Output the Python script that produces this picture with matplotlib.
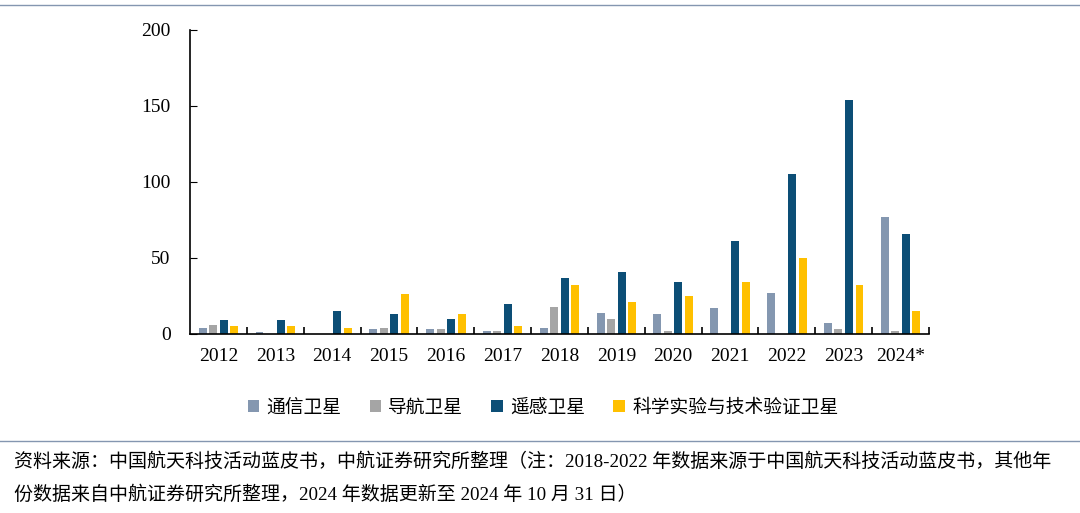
import numpy as np
import matplotlib.pyplot as plt
from matplotlib.lines import Line2D

plt.rcParams['font.family'] = ['Liberation Serif', 'Noto Sans CJK SC']

years = ["2012", "2013", "2014", "2015", "2016", "2017", "2018",
         "2019", "2020", "2021", "2022", "2023", "2024*"]
series_names = ["通信卫星", "导航卫星", "遥感卫星", "科学实验与技术验证卫星"]
comm = [4, 1, 0, 3, 3, 2, 4, 14, 13, 17, 27, 7, 77]
nav = [6, 0, 0, 4, 3, 2, 18, 10, 2, 0, 0, 3, 2]
remote = [9, 9, 15, 13, 10, 20, 37, 41, 34, 61, 105, 154, 66]
science = [5, 5, 4, 26, 13, 5, 32, 21, 25, 34, 50, 32, 15]
colors = ["#8497B0", "#A5A5A5", "#0C4E76", "#FFC000"]

source_lines = [
    "资料来源：中国航天科技活动蓝皮书，中航证券研究所整理（注：2018-2022 年数据来源于中国航天科技活动蓝皮书，其他年",
    "份数据来自中航证券研究所整理，2024 年数据更新至 2024 年 10 月 31 日）",
]

fig = plt.figure(figsize=(10.8, 5.13), dpi=100)
ax = fig.add_axes([190 / 1080, 1 - 334 / 513, (929 - 190) / 1080, 304 / 513])

x = np.arange(len(years))
step = 0.185
width = 0.14
for i, (vals, name) in enumerate(zip([comm, nav, remote, science], series_names)):
    ax.bar(x + (i - 1.5) * step, vals, width=width, color=colors[i], label=name)

ax.set_xlim(-0.5, len(years) - 0.5)
ax.set_ylim(0, 200)
ax.set_yticks(range(0, 201, 50))
ax.tick_params(axis='y', direction='in', length=5, labelsize=14, pad=14)
ax.set_xticks(x)
ax.set_xticklabels(years, fontsize=14)
ax.tick_params(axis='x', length=0, pad=10)
ax.set_xticks(np.arange(0.5, len(years)), minor=True)
ax.tick_params(axis='x', which='minor', direction='in', length=5, width=1.2)
for s in ['top', 'right']:
    ax.spines[s].set_visible(False)
for s in ['left', 'bottom']:
    ax.spines[s].set_linewidth(1.2)

leg = fig.legend(loc='center', bbox_to_anchor=(543 / 1080, 1 - 408 / 513), ncol=4,
                 frameon=False, fontsize=13.5, handlelength=0.6, handleheight=0.6,
                 handletextpad=0.4, columnspacing=1.5)

# horizontal rules at the top and above the source note
fig.add_artist(Line2D([0, 1], [1 - 5 / 513] * 2, color="#8496B0", lw=1))
fig.add_artist(Line2D([0, 1], [1 - 441 / 513] * 2, color="#8496B0", lw=1))

fig.text(14 / 1080, 1 - 462 / 513, source_lines[0], fontsize=13.7, va='center')
fig.text(14 / 1080, 1 - 495 / 513, source_lines[1], fontsize=13.7, va='center')

fig.savefig("out.png", dpi=100)
